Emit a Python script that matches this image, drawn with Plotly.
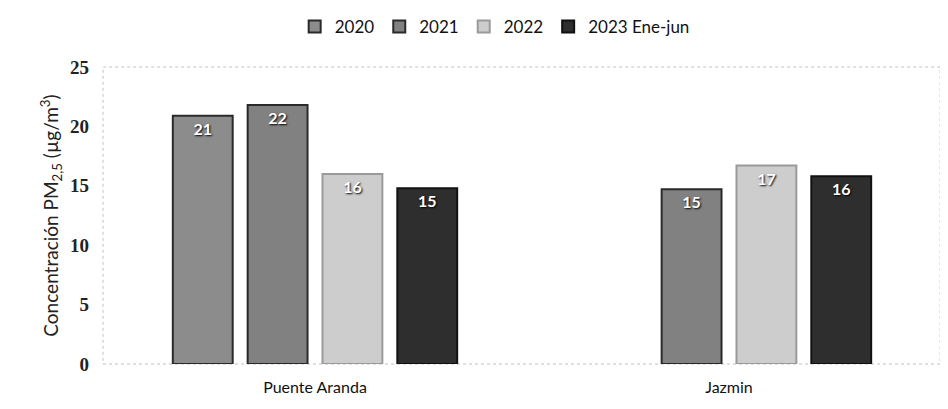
import plotly.graph_objects as go

categories = ["Puente Aranda", "Jazmin"]
series_names = ["2020", "2021", "2022", "2023 Ene-jun"]
values_2020 = [20.9, None]
values_2021 = [21.8, 14.7]
values_2022 = [16.0, 16.7]
values_2023 = [14.8, 15.8]
y_ticks = [0, 5, 10, 15, 20, 25]

series_values = [values_2020, values_2021, values_2022, values_2023]
fill_colors = ["#8c8c8c", "#818181", "#cdcdcd", "#2e2e2e"]
line_colors = ["#2a2a2a", "#2a2a2a", "#9a9a9a", "#111111"]

fig = go.Figure()
for name, vals, fc, lc in zip(series_names, series_values, fill_colors, line_colors):
    fig.add_trace(go.Bar(
        name=name, x=categories, y=vals,
        marker=dict(color=fc, line=dict(color=lc, width=2)),
        texttemplate="%{y:.0f}", textposition="inside", insidetextanchor="end",
        textfont=dict(family="Lato", size=16, color="white", weight="bold",
                      shadow="1px 1px 2px #000"),
        cliponaxis=False,
    ))

fig.update_layout(
    width=940, height=401,
    margin=dict(l=100, r=12, t=59, b=45, autoexpand=False),
    paper_bgcolor="white", plot_bgcolor="white",
    barmode="group", bargap=0.277, bargroupgap=0.2,
    font=dict(family="Lato", color="#111"),
    legend=dict(orientation="h", x=0.467, xanchor="center", y=0.953, yref="container",
                yanchor="middle", font=dict(size=17, family="Lato", color="#111"),
                itemwidth=30, traceorder="normal"),
    xaxis=dict(showgrid=False, showline=False, ticks="", ticklabelstandoff=12,
               tickfont=dict(size=16, family="Lato", color="#111")),
    yaxis=dict(range=[0, 25], tickvals=y_ticks, showgrid=False, zeroline=False,
               showline=False, ticks="",
               ticklabelstandoff=18,
               tickfont=dict(size=19, family="Liberation Serif", color="#222", weight="bold"),
               title=dict(text="Concentración PM<sub>2,5</sub> (µg/m<sup>3</sup>)",
                          font=dict(size=19, family="Lato", color="#222"), standoff=6)),
    shapes=[dict(type="rect", xref="paper", yref="paper", x0=-0.006, x1=1.005, y0=0, y1=1,
                 line=dict(color="#c0c0c0", width=1, dash="dot"), layer="below")],
)

fig.write_html("out.html")
